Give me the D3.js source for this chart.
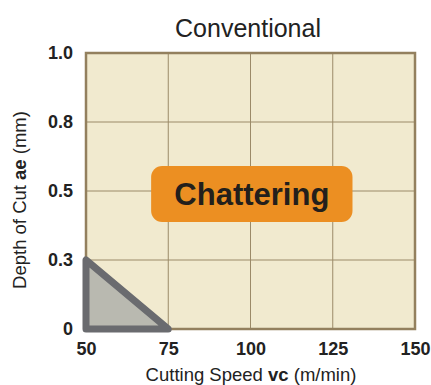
<!DOCTYPE html>
<html>
<head>
<meta charset="utf-8">
<script src="https://cdn.jsdelivr.net/npm/d3@7"></script>
<style>
  html, body { margin: 0; padding: 0; background: #fff; }
  svg { display: block; font-family: "Liberation Sans", Arial, sans-serif; }
</style>
</head>
<body>
<svg id="chart" width="431" height="385"></svg>
<script>
// Axis ticks
const speedTicks = [50, 75, 100, 125, 150];
const depthTicks = ["0", "0.3", "0.5", "0.8", "1.0"];

// Stable cutting region (triangle), in data terms
const stableSpeed = [50, 50, 75];
const stableDepth = ["0.3", "0", "0"];

// Chattering zone label box (speed extents, centred on a depth tick)
const zoneLabel = ["Chattering"];
const zoneSpeed = [69.8, 131];
const zoneDepth = ["0.5"];

const svg = d3.select("#chart");
const margin = { left: 86, right: 16, top: 53, bottom: 56 };
const W = 431, H = 385;
const FONT = "Liberation Sans, Arial, sans-serif";

const x = d3.scaleLinear()
  .domain([50, 150])
  .range([margin.left, W - margin.right]);

const y = d3.scalePoint()
  .domain(depthTicks)
  .range([H - margin.bottom, margin.top]);

// Plot background
svg.append("rect")
  .attr("x", x(50)).attr("y", y("1.0"))
  .attr("width", x(150) - x(50))
  .attr("height", y("0") - y("1.0"))
  .attr("fill", "#f1eacf");

// Grid
const grid = svg.append("g").attr("stroke", "#9b8a68").attr("stroke-width", 1);
grid.selectAll("line.v").data(speedTicks.slice(1, -1)).join("line")
  .attr("x1", d => x(d)).attr("x2", d => x(d))
  .attr("y1", y("1.0")).attr("y2", y("0"));
grid.selectAll("line.h").data(depthTicks.slice(1, -1)).join("line")
  .attr("x1", x(50)).attr("x2", x(150))
  .attr("y1", d => y(d)).attr("y2", d => y(d));

// Frame
svg.append("rect")
  .attr("x", x(50)).attr("y", y("1.0"))
  .attr("width", x(150) - x(50))
  .attr("height", y("0") - y("1.0"))
  .attr("fill", "none")
  .attr("stroke", "#93805e")
  .attr("stroke-width", 2.5);

// Axes (labels only)
const xAxis = svg.append("g")
  .attr("transform", `translate(0,${y("0")})`)
  .call(d3.axisBottom(x).tickValues(speedTicks).tickSize(0).tickPadding(13));
xAxis.select(".domain").remove();
xAxis.selectAll("text")
  .attr("font-size", 18).attr("font-weight", "bold").attr("fill", "#222")
  .attr("font-family", FONT);

const yAxis = svg.append("g")
  .attr("transform", `translate(${x(50)},0)`)
  .call(d3.axisLeft(y).tickSize(0).tickPadding(13));
yAxis.select(".domain").remove();
yAxis.selectAll("text")
  .attr("font-size", 18).attr("font-weight", "bold").attr("fill", "#222")
  .attr("font-family", FONT);

// Stable region triangle
const pts = stableSpeed.map((s, i) => [x(s), y(stableDepth[i])]);
svg.append("path")
  .attr("d", d3.line()(pts) + "Z")
  .attr("fill", "#b9b9b0")
  .attr("stroke", "#6a6b6f")
  .attr("stroke-width", 7)
  .attr("stroke-linejoin", "round");

// Chattering label
const bx0 = x(zoneSpeed[0]), bx1 = x(zoneSpeed[1]);
const cy = y(zoneDepth[0]) + 3;
svg.append("rect")
  .attr("x", bx0).attr("y", cy - 28)
  .attr("width", bx1 - bx0).attr("height", 56)
  .attr("rx", 11)
  .attr("fill", "#ec8f22");
svg.append("text")
  .attr("x", (bx0 + bx1) / 2).attr("y", cy + 11)
  .attr("text-anchor", "middle")
  .attr("font-size", 31).attr("font-weight", "bold").attr("fill", "#231f1c")
  .text(zoneLabel[0]);

// Title
svg.append("text")
  .attr("x", 248).attr("y", 37)
  .attr("text-anchor", "middle")
  .attr("font-size", 25).attr("fill", "#222")
  .text("Conventional");

// X axis title
const xt = svg.append("text")
  .attr("x", 251).attr("y", 381)
  .attr("text-anchor", "middle")
  .attr("font-size", 18.5).attr("fill", "#222");
xt.append("tspan").text("Cutting Speed ");
xt.append("tspan").attr("font-weight", "bold").text("vc");
xt.append("tspan").text(" (m/min)");

// Y axis title
const yt = svg.append("text")
  .attr("transform", `translate(26,200) rotate(-90)`)
  .attr("text-anchor", "middle")
  .attr("font-size", 18.5).attr("fill", "#222");
yt.append("tspan").text("Depth of Cut ");
yt.append("tspan").attr("font-weight", "bold").text("ae");
yt.append("tspan").text(" (mm)");
</script>
</body>
</html>
